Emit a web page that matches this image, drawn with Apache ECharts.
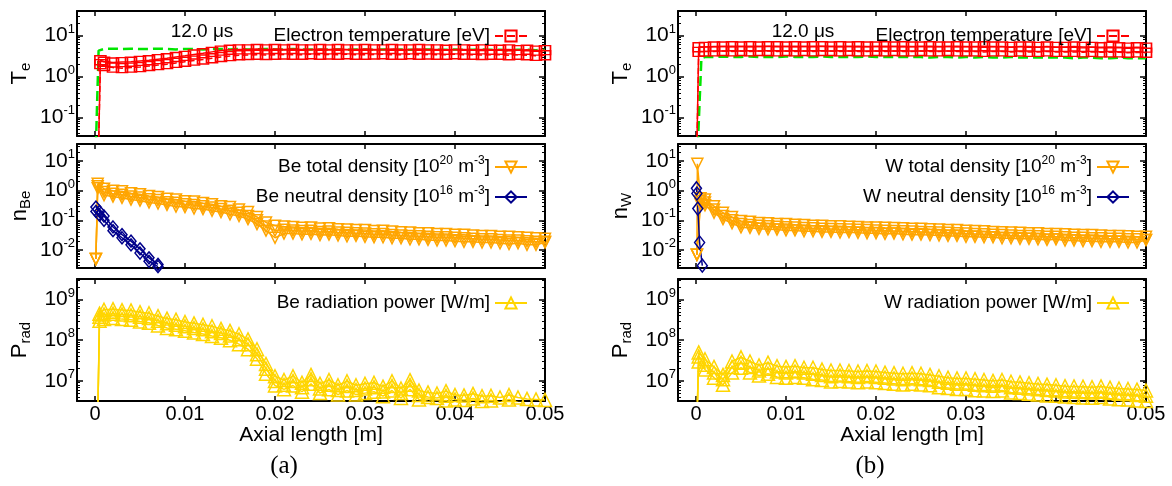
<!DOCTYPE html>
<html><head><meta charset="utf-8">
<script src="https://cdn.jsdelivr.net/npm/echarts@6/dist/echarts.min.js"></script>
<style>html,body{margin:0;padding:0;background:#fff}#c{width:1172px;height:486px}</style>
</head><body><div id="c"></div><script>
// ---------------- DATA ----------------
const xGrid = [0.001,0.002,0.003,0.004,0.005,0.006,0.007,0.008,0.009,0.010,
  0.011,0.012,0.013,0.014,0.015,0.016,0.017,0.018,0.019,0.020,
  0.021,0.022,0.023,0.024,0.025,0.026,0.027,0.028,0.029,0.030,
  0.031,0.032,0.033,0.034,0.035,0.036,0.037,0.038,0.039,0.040,
  0.041,0.042,0.043,0.044,0.045,0.046,0.047,0.048,0.049,0.050];
const xTickLabels = ['0','0.01','0.02','0.03','0.04','0.05'];

// (a) Be case -- electron temperature [eV]
const teA_hotLead = [[0.0004,0.02],[0.0006,2.5]];
const teA_hot = [2.3,2.2,2.25,2.3,2.4,2.5,2.65,2.8,3.0,3.2, 3.45,3.7,4.0,4.3,4.5,4.6,4.6,4.7,4.6,4.7,
  4.6,4.7,4.6,4.6,4.7,4.6,4.7,4.6,4.6,4.7, 4.6,4.6,4.7,4.6,4.6,4.7,4.6,4.6,4.5,4.6, 4.6,4.5,4.6,4.5,4.5,4.6,4.4,4.5,4.3,4.4];
const teA_coolLead = [[0.0004,0.02],[0.0006,2.0]];
const teA_cool = [1.8,1.65,1.6,1.65,1.7,1.8,1.9,2.0,2.15,2.3, 2.45,2.6,2.8,3.0,3.15,3.3,3.35,3.4,3.35,3.4,
  3.45,3.4,3.4,3.5,3.4,3.45,3.4,3.5,3.4,3.4, 3.45,3.5,3.4,3.4,3.5,3.4,3.45,3.4,3.4,3.5, 3.4,3.4,3.35,3.4,3.4,3.3,3.4,3.3,3.2,3.3];
const teA_greenLead = [[0.0001,0.02],[0.0004,4.3]];
const teA_green = [4.7,4.8,4.7,4.8,4.7,4.7,4.8,4.7,4.6,4.7, 4.7,4.6,4.7,4.7,4.6,4.7,4.6,4.6,4.7,4.6,
  4.6,4.7,4.6,4.6,4.5,4.6,4.6,4.5,4.6,4.6, 4.5,4.6,4.5,4.6,4.5,4.5,4.6,4.5,4.5,4.6, 4.5,4.5,4.6,4.5,4.5,4.4,4.5,4.5,4.4,4.5];

// (b) W case -- electron temperature [eV]
const teB_hotLead = [[0.0001,0.02],[0.0003,5.2]];
const teB_hot = [5.3,5.4,5.4,5.5,5.4,5.5,5.4,5.5,5.5,5.4, 5.5,5.4,5.5,5.5,5.4,5.5,5.4,5.5,5.4,5.4,
  5.5,5.4,5.5,5.4,5.4,5.5,5.4,5.4,5.5,5.4, 5.4,5.5,5.4,5.4,5.3,5.4,5.4,5.3,5.4,5.3, 5.3,5.4,5.3,5.3,5.2,5.3,5.2,5.1,5.2,5.1];
const teB_coolLead = [[0.0001,0.02],[0.0003,4.0]];
const teB_cool = [4.1,4.1,4.2,4.1,4.2,4.1,4.2,4.2,4.1,4.2, 4.1,4.2,4.1,4.2,4.2,4.1,4.2,4.1,4.1,4.2,
  4.1,4.2,4.1,4.1,4.2,4.1,4.1,4.2,4.1,4.1, 4.1,4.0,4.1,4.1,4.0,4.1,4.0,4.0,4.1,4.0, 4.0,4.0,3.9,4.0,3.9,3.9,3.9,3.8,3.9,3.8];
const teB_greenLead = [[0.0002,0.02],[0.0006,2.8]];
const teB_green = [3.0,3.0,3.1,3.0,3.0,3.1,3.0,3.0,3.0,3.1, 3.0,3.0,3.0,3.1,3.0,3.0,3.0,3.0,3.1,3.0,
  3.0,3.0,3.0,3.0,3.0,2.9,3.0,3.0,2.9,3.0, 2.9,3.0,2.9,2.9,3.0,2.9,2.9,2.9,2.9,2.9, 2.9,2.8,2.9,2.9,2.8,2.8,2.9,2.8,2.8,2.8];

// (a) Be densities
const nA_totHiLead = [[0.0001,0.005],[0.0003,1.7]];
const nA_totHi = [1.15,1.0,0.95,0.82,0.76,0.66,0.61,0.53,0.5,0.44, 0.43,0.38,0.35,0.3,0.28,0.23,0.19,0.13,0.085,0.066,
  0.062,0.06,0.056,0.058,0.053,0.054,0.05,0.049,0.047,0.047, 0.044,0.045,0.042,0.040,0.039,0.037,0.037,0.035,0.035,0.033,
  0.033,0.031,0.030,0.030,0.028,0.028,0.027,0.026,0.025,0.024];
const nA_totMidLead = [[0.0001,0.005],[0.0003,1.4]];
const nA_totMid = [0.9,0.79,0.73,0.64,0.59,0.51,0.48,0.41,0.39,0.35, 0.33,0.3,0.27,0.24,0.21,0.18,0.14,0.1,0.062,0.045,
  0.048,0.046,0.044,0.045,0.041,0.042,0.039,0.038,0.037,0.036, 0.034,0.035,0.032,0.031,0.030,0.029,0.028,0.027,0.027,0.026,
  0.025,0.024,0.023,0.023,0.022,0.021,0.021,0.020,0.019,0.019];
const nA_totLoLead = [[0.0001,0.005],[0.0003,1.2]];
const nA_totLo = [0.7,0.63,0.57,0.5,0.46,0.4,0.37,0.33,0.29,0.28, 0.25,0.24,0.21,0.19,0.16,0.14,0.11,0.075,0.045,0.026,
  0.036,0.036,0.034,0.035,0.032,0.033,0.031,0.029,0.030,0.028, 0.027,0.027,0.025,0.025,0.023,0.023,0.022,0.021,0.021,0.020,
  0.019,0.019,0.018,0.018,0.017,0.016,0.017,0.015,0.015,0.018];
const nA_neuHi = [[0.0001,0.28],[0.0005,0.2],[0.001,0.14],[0.002,0.06],[0.003,0.033],[0.004,0.02],[0.005,0.011],[0.006,0.0055],[0.007,0.0033]];
const nA_neuLo = [[0.0001,0.2],[0.0005,0.15],[0.001,0.1],[0.002,0.045],[0.003,0.026],[0.004,0.015],[0.005,0.008],[0.006,0.0042],[0.007,0.0028]];

// (b) W densities
const nB_totHiLead = [[0.0001,0.007],[0.00015,8],[0.0005,0.55]];
const nB_totHi = [0.5,0.3,0.18,0.13,0.095,0.09,0.082,0.08,0.076,0.075, 0.071,0.07,0.066,0.066,0.063,0.063,0.061,0.06,0.058,0.058,
  0.056,0.055,0.054,0.052,0.052,0.05,0.049,0.047,0.047,0.045, 0.044,0.043,0.041,0.040,0.039,0.038,0.037,0.037,0.035,0.035,
  0.034,0.033,0.032,0.032,0.031,0.030,0.030,0.029,0.028,0.028];
const nB_totMidLead = [[0.0001,0.007],[0.0005,0.45]];
const nB_totMid = [0.4,0.23,0.14,0.1,0.075,0.07,0.066,0.063,0.061,0.059, 0.057,0.055,0.054,0.052,0.051,0.05,0.049,0.048,0.047,0.046,
  0.045,0.044,0.043,0.042,0.041,0.040,0.039,0.038,0.037,0.036, 0.035,0.034,0.033,0.032,0.031,0.030,0.030,0.029,0.028,0.028,
  0.027,0.026,0.026,0.025,0.025,0.024,0.024,0.023,0.023,0.022];
const nB_totLoLead = [[0.0001,0.007],[0.0005,0.35]];
const nB_totLo = [0.32,0.18,0.11,0.08,0.058,0.056,0.052,0.05,0.049,0.046, 0.046,0.043,0.043,0.041,0.041,0.039,0.04,0.038,0.037,0.037,
  0.035,0.036,0.034,0.033,0.033,0.032,0.031,0.030,0.030,0.028, 0.028,0.027,0.027,0.025,0.025,0.024,0.024,0.023,0.022,0.023,
  0.021,0.021,0.020,0.020,0.019,0.019,0.019,0.018,0.018,0.022];
const nB_neu = [[0.00005,1.2],[0.0001,0.8],[0.0002,0.25],[0.0004,0.018],[0.0007,0.003]];

// (a) Be radiation power [W/m]
const pA_hiLead = [[0.0003,1e6],[0.0005,4.5e8]];
const pA_hi = [5.6e8,5.8e8,5.5e8,5.4e8,4.9e8,4.6e8,3.9e8,3.4e8,3.2e8,2.8e8, 2.6e8,2.4e8,2.2e8,1.9e8,1.7e8,1.4e8,1.05e8,6e7,2.6e7,1.3e7,
  1.05e7,1.3e7,9e6,1.4e7,8.5e6,1.05e7,7.8e6,9.8e6,7.8e6,8.5e6, 9e6,7.2e6,9.8e6,6.5e6,1.04e7,5.8e6,5.2e6,4.9e6,5.6e6,4.5e6,
  4.4e6,4.8e6,4.2e6,4.3e6,3.9e6,4.5e6,3.9e6,3.6e6,3.5e6,3.4e6];
const pA_midLead = [[0.0003,1e6],[0.0005,3.8e8]];
const pA_mid = [4.3e8,4.5e8,4.3e8,4.1e8,3.8e8,3.5e8,3.0e8,2.6e8,2.4e8,2.2e8, 2.0e8,1.85e8,1.65e8,1.5e8,1.3e8,1.05e8,8e7,4.5e7,2e7,1e7,
  8e6,1.0e7,7e6,1.1e7,6.5e6,8e6,6e6,7.5e6,6e6,6.5e6, 7e6,5.5e6,7.5e6,5e6,8e6,4.5e6,4e6,3.8e6,4.3e6,3.5e6,
  3.4e6,3.7e6,3.2e6,3.3e6,3.0e6,3.5e6,3.0e6,2.8e6,2.7e6,2.6e6];
const pA_loLead = [[0.0003,1e6],[0.0005,3e8]];
const pA_lo = [3.3e8,3.5e8,3.3e8,3.2e8,2.9e8,2.7e8,2.3e8,2.0e8,1.85e8,1.7e8, 1.55e8,1.42e8,1.27e8,1.15e8,1.0e8,8e7,6e7,3.5e7,1.5e7,7.7e6,
  6.2e6,7.7e6,5.4e6,8.5e6,5e6,6.2e6,4.6e6,5.8e6,4.6e6,5e6, 5.4e6,4.2e6,5.8e6,3.8e6,6.2e6,3.5e6,3.1e6,2.9e6,3.3e6,2.7e6,
  2.6e6,2.8e6,2.5e6,2.5e6,2.3e6,2.7e6,2.3e6,2.2e6,2.1e6,2.0e6];

// (b) W radiation power [W/m]
const pB_hiLead = [[0.0001,1e6],[0.0003,5e7]];
const pB_hi = [3.4e7,2.2e7,1.4e7,3.0e7,3.8e7,3.0e7,2.4e7,2.8e7,2.3e7,2.2e7, 2.3e7,2.1e7,2.1e7,1.9e7,1.8e7,1.8e7,1.75e7,1.7e7,1.75e7,1.7e7,
  1.6e7,1.55e7,1.5e7,1.55e7,1.5e7,1.4e7,1.3e7,1.2e7,1.15e7,1.15e7, 1.1e7,1.05e7,1.0e7,1.05e7,9.5e6,9.2e6,8.8e6,8.4e6,8.1e6,7.8e6,
  7.4e6,7.3e6,7.2e6,7e6,7.3e6,6.8e6,6.5e6,6.3e6,6.1e6,5.8e6];
const pB_midLead = [[0.0001,1e6],[0.0003,4e7]];
const pB_mid = [2.5e7,1.6e7,1.1e7,2.2e7,2.8e7,2.2e7,1.8e7,2.0e7,1.7e7,1.6e7, 1.7e7,1.6e7,1.5e7,1.4e7,1.3e7,1.35e7,1.3e7,1.25e7,1.3e7,1.25e7,
  1.2e7,1.15e7,1.1e7,1.15e7,1.1e7,1.05e7,9.5e6,9e6,8.5e6,8.5e6, 8e6,7.8e6,7.6e6,7.8e6,7e6,6.8e6,6.5e6,6.2e6,6e6,5.8e6,
  5.5e6,5.4e6,5.3e6,5.2e6,5.4e6,5.0e6,4.8e6,4.7e6,4.5e6,4.3e6];
const pB_loLead = [[0.0001,1e6],[0.0003,3e7]];
const pB_lo = [1.9e7,1.2e7,8e6,1.6e7,2.1e7,1.6e7,1.35e7,1.5e7,1.25e7,1.2e7, 1.25e7,1.2e7,1.1e7,1.05e7,9.6e6,1.0e7,9.6e6,9.3e6,9.6e6,9.3e6,
  8.9e6,8.5e6,8.1e6,8.5e6,8.1e6,7.8e6,7e6,6.7e6,6.3e6,6.3e6, 5.9e6,5.8e6,5.6e6,5.8e6,5.2e6,5e6,4.8e6,4.6e6,4.4e6,4.3e6,
  4.1e6,4e6,3.9e6,3.85e6,4e6,3.7e6,3.55e6,3.5e6,3.3e6,3.2e6];

// axis ranges
const xRange = [-0.002, 0.05];
const yRangeTe = [0.035, 40];
const yRangeN = [0.0025, 37];
const yRangeP = [3.2e6, 3.2e9];

// ---------------- LAYOUT ----------------
const FONT = '"Liberation Sans", Arial, Helvetica, sans-serif';
const colL = 77, colR = 678, colW = 468;
const rows = [[11,125],[144,124],[279,122]];
const C = {red:'#FF0000', green:'#00E600', orange:'#FFA500', navy:'#00008B', gold:'#FFD500'};

function pts(lead, vals){
  const out = lead.map(p => [p[0], p[1]]);
  if (vals) vals.forEach((v,i) => out.push([xGrid[i], v]));
  return out;
}
const supRich = {
  b:{fontSize:21, fontFamily:FONT, color:'#000', lineHeight:26},
  s:{fontSize:13, fontFamily:FONT, color:'#000', lineHeight:13, verticalAlign:'top'}
};
function decadeLabel(v){
  const e = Math.log10(v);
  const r = Math.round(e);
  if (Math.abs(e - r) > 0.01) return '';
  return '{b|10}{s|' + r + '}';
}
const grids = [], xAxes = [], yAxes = [];
const yRanges = [yRangeTe, yRangeN, yRangeP];
const yNames = [['{m|T}{sub|e}','{m|n}{sub|Be}','{m|P}{sub|rad}'],['{m|T}{sub|e}','{m|n}{sub|W}','{m|P}{sub|rad}']];
for (let c = 0; c < 2; c++) {
  for (let r = 0; r < 3; r++) {
    const g = c*3 + r;
    grids.push({left: c ? colR : colL, top: rows[r][0], width: colW, height: rows[r][1], containLabel:false});
    const axLine = {show:true, onZero:false, lineStyle:{color:'#000', width:2}};
    const bottom = (r === 2);
    xAxes.push({type:'value', gridIndex:g, min:xRange[0], max:xRange[1], splitNumber:5, position:'bottom',
      axisLine:axLine, splitLine:{show:false},
      axisTick:{show:true, inside:true, length:5, lineStyle:{color:'#000', width:1.5}},
      axisLabel:{show:bottom, showMinLabel:false, margin:3, fontSize:20, fontFamily:FONT, color:'#000',
        formatter: v => { const i = Math.round(v/0.01); return (Math.abs(v - i*0.01) < 1e-9 && i >= 0) ? xTickLabels[i] : ''; }},
      name: bottom ? 'Axial length [m]' : '', nameLocation:'middle', nameGap:24,
      nameTextStyle:{fontSize:21, fontFamily:FONT, color:'#000'}});
    xAxes.push({type:'value', gridIndex:g, min:xRange[0], max:xRange[1], splitNumber:5, position:'top',
      axisLine:axLine, splitLine:{show:false}, axisLabel:{show:false},
      axisTick:{show:true, inside:true, length:5, lineStyle:{color:'#000', width:1.5}}});
    const yr = yRanges[r];
    yAxes.push({type:'log', logBase:10, gridIndex:g, min:yr[0], max:yr[1], position:'left',
      axisLine:axLine, splitLine:{show:false}, minorSplitLine:{show:false},
      axisTick:{show:true, inside:true, length:6, lineStyle:{color:'#000', width:1.5}},
      minorTick:{show:true, splitNumber:9, length:3, lineStyle:{color:'#000', width:1}},
      axisLabel:{show:true, margin:2, showMinLabel:false, showMaxLabel:false, formatter:decadeLabel, rich:supRich},
      name: yNames[c][r], nameLocation:'middle', nameRotate:90, nameGap:44,
      nameTextStyle:{rich:{m:{fontSize:22, fontFamily:FONT, color:'#000', lineHeight:26},
        sub:{fontSize:15, fontFamily:FONT, color:'#000', lineHeight:15, verticalAlign:'bottom'}}}});
    yAxes.push({type:'log', logBase:10, gridIndex:g, min:yr[0], max:yr[1], position:'right',
      axisLine:axLine, splitLine:{show:false}, minorSplitLine:{show:false}, axisLabel:{show:false},
      axisTick:{show:true, inside:true, length:6, lineStyle:{color:'#000', width:1.5}},
      minorTick:{show:true, splitNumber:9, length:3, lineStyle:{color:'#000', width:1}}});
  }
}
function mk(name, g, data, color, symbol, size, extra){
  return Object.assign({type:'line', name, xAxisIndex:2*g, yAxisIndex:2*g, data,
    symbol, symbolSize:size, showAllSymbol:true, clip:true, animation:false, silent:true,
    lineStyle:{color, width:1.5},
    itemStyle:{color:'rgba(255,255,255,0)', borderColor:color, borderWidth:1.5},
    emphasis:{disabled:true}}, extra || {});
}
const TE = 'Electron temperature [eV]';
const down = {symbolRotate:180};
const series = [
  mk('teA_green', 0, pts(teA_greenLead, teA_green), C.green, 'none', 0, {lineStyle:{color:C.green, width:2.5, type:'dashed'}}),
  mk(TE, 0, pts(teA_coolLead, teA_cool), C.red, 'rect', [11,9], {lineStyle:{color:C.red, width:1.5, type:'dashed'}}),
  mk(TE, 0, pts(teA_hotLead, teA_hot), C.red, 'rect', [11,9]),
  mk('Be total density [10^20 m^-3]', 1, pts(nA_totLoLead, nA_totLo), C.orange, 'triangle', 11, down),
  mk('Be total density [10^20 m^-3]', 1, pts(nA_totMidLead, nA_totMid), C.orange, 'triangle', 11, down),
  mk('Be total density [10^20 m^-3]', 1, pts(nA_totHiLead, nA_totHi), C.orange, 'triangle', 11, down),
  mk('Be neutral density [10^16 m^-3]', 1, pts(nA_neuLo), C.navy, 'diamond', [10,12]),
  mk('Be neutral density [10^16 m^-3]', 1, pts(nA_neuHi), C.navy, 'diamond', [10,12]),
  mk('Be radiation power [W/m]', 2, pts(pA_loLead, pA_lo), C.gold, 'triangle', 13),
  mk('Be radiation power [W/m]', 2, pts(pA_midLead, pA_mid), C.gold, 'triangle', 13),
  mk('Be radiation power [W/m]', 2, pts(pA_hiLead, pA_hi), C.gold, 'triangle', 13),

  mk('teB_green', 3, pts(teB_greenLead, teB_green), C.green, 'none', 0, {lineStyle:{color:C.green, width:2.5, type:'dashed'}}),
  mk(TE, 3, pts(teB_coolLead, teB_cool), C.red, 'rect', [11,9], {lineStyle:{color:C.red, width:1.5, type:'dashed'}}),
  mk(TE, 3, pts(teB_hotLead, teB_hot), C.red, 'rect', [11,9]),
  mk('W total density [10^20 m^-3]', 4, pts(nB_totLoLead, nB_totLo), C.orange, 'triangle', 11, down),
  mk('W total density [10^20 m^-3]', 4, pts(nB_totMidLead, nB_totMid), C.orange, 'triangle', 11, down),
  mk('W total density [10^20 m^-3]', 4, pts(nB_totHiLead, nB_totHi), C.orange, 'triangle', 11, down),
  mk('W neutral density [10^16 m^-3]', 4, pts(nB_neu), C.navy, 'diamond', [10,13]),
  mk('W radiation power [W/m]', 5, pts(pB_loLead, pB_lo), C.gold, 'triangle', 13),
  mk('W radiation power [W/m]', 5, pts(pB_midLead, pB_mid), C.gold, 'triangle', 13),
  mk('W radiation power [W/m]', 5, pts(pB_hiLead, pB_hi), C.gold, 'triangle', 13)
];
function legendFmt(name){ return name.replace(/\^(-?\d+)/g, '{s|$1}'); }
function mkLegend(names, right, top){
  return {orient:'vertical', align:'right', right, top, padding:0, itemGap:6, itemWidth:32, itemHeight:14,
    selectedMode:false, data:names, formatter:legendFmt,
    textStyle:{fontSize:19, fontFamily:FONT, color:'#000', lineHeight:24,
      rich:{s:{fontSize:12, fontFamily:FONT, color:'#000', lineHeight:12, verticalAlign:'top'}}}};
}
const legends = [
  mkLegend([TE], 644, 24),
  mkLegend(['Be total density [10^20 m^-3]','Be neutral density [10^16 m^-3]'], 644, 155),
  mkLegend(['Be radiation power [W/m]'], 644, 291),
  mkLegend([TE], 42, 24),
  mkLegend(['W total density [10^20 m^-3]','W neutral density [10^16 m^-3]'], 42, 155),
  mkLegend(['W radiation power [W/m]'], 42, 291)
];
function txt(t, x, y, font){
  return {type:'text', x, y, silent:true, style:{text:t, fill:'#000', font, align:'center', verticalAlign:'middle'}};
}
const chart = echarts.init(document.getElementById('c'), null, {renderer:'canvas'});
chart.setOption({
  animation:false, backgroundColor:'#fff',
  grid:grids, xAxis:xAxes, yAxis:yAxes, series, legend:legends,
  graphic:[
    txt('12.0 \u03bcs', 202, 32, '19px ' + FONT),
    txt('12.0 \u03bcs', 803, 32, '19px ' + FONT),
    txt('(a)', 284, 466, '25px "Liberation Serif", "Times New Roman", serif'),
    txt('(b)', 870, 466, '25px "Liberation Serif", "Times New Roman", serif')
  ]
});
</script></body></html>
